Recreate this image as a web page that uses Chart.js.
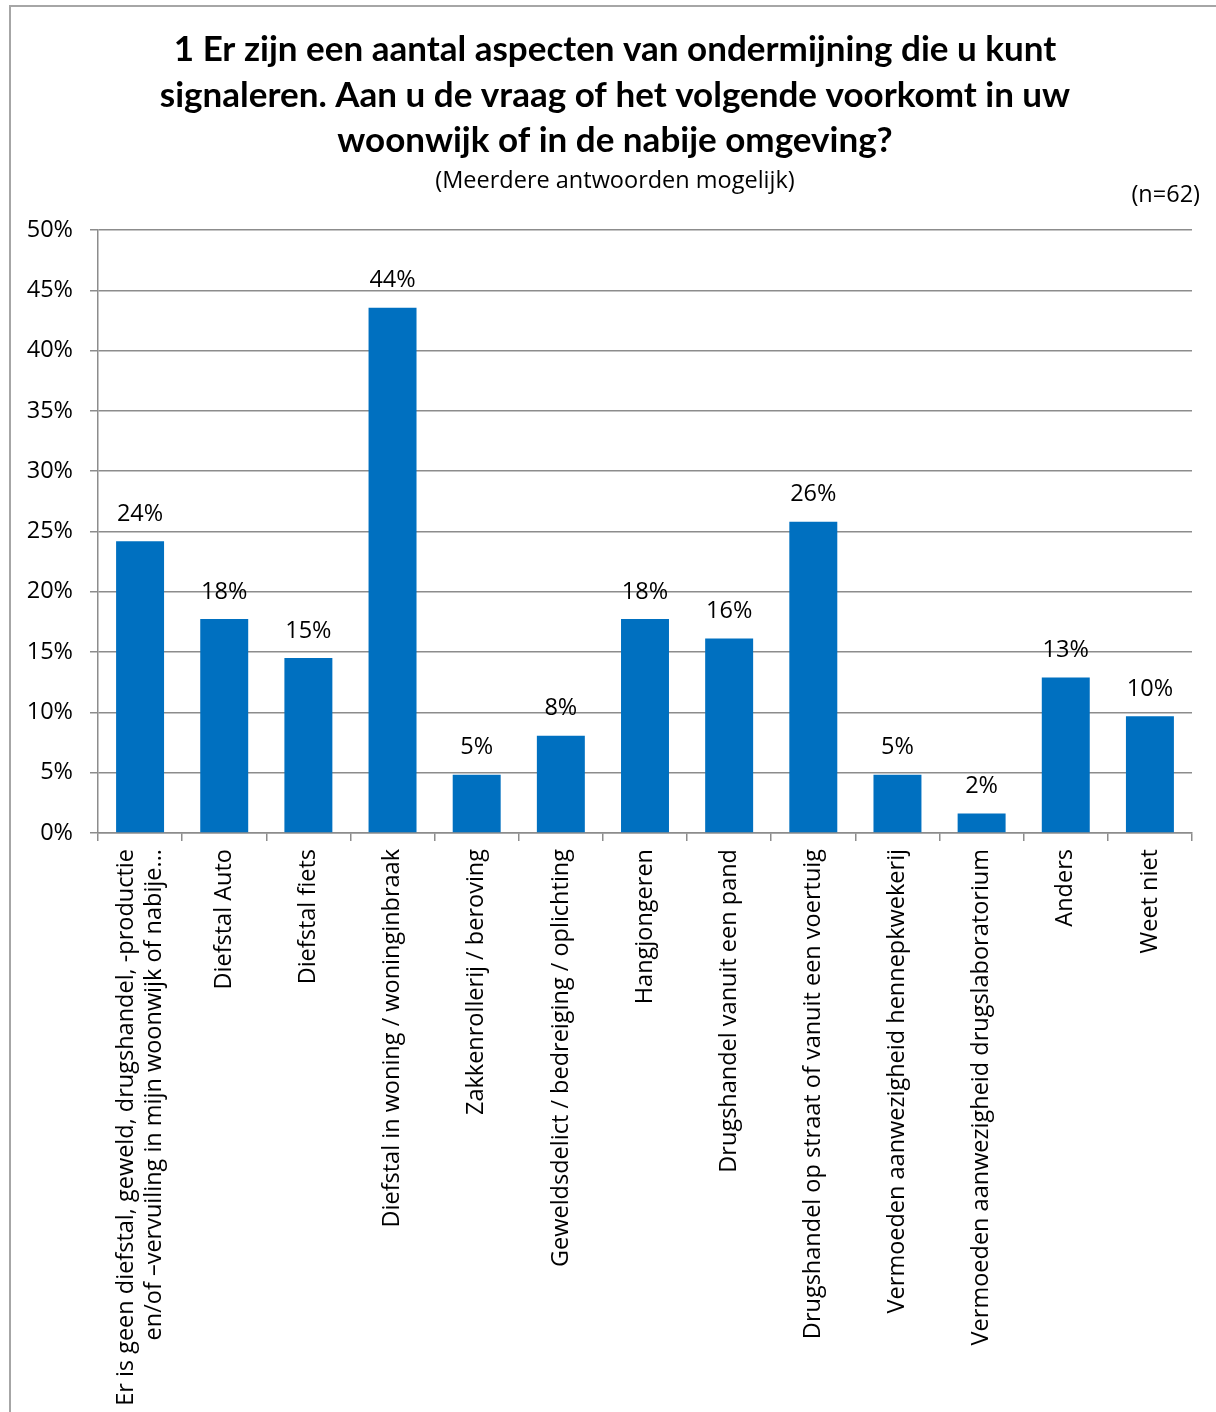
<!DOCTYPE html>
<html>
<head>
<meta charset="utf-8">
<script src="https://cdn.jsdelivr.net/npm/chart.js@4/dist/chart.umd.min.js"></script>
<style>
  html, body { margin: 0; padding: 0; background: #fff; }
  #wrap { position: relative; width: 1216px; height: 1412px; overflow: hidden; }
  #frame { position: absolute; left: 9px; top: 5px; width: 1300px; height: 1500px;
           border-left: 2px solid #a6a6a6; border-top: 2px solid #a6a6a6; }
  canvas { position: absolute; left: 0; top: 0; }
</style>
</head>
<body>
<div id="wrap">
  <div id="frame"></div>
  <canvas id="c" width="1216" height="1412"></canvas>
</div>
<script>
const titleLines = [
  "1 Er zijn een aantal aspecten van ondermijning die u kunt",
  "signaleren. Aan u de vraag of het volgende voorkomt in uw",
  "woonwijk of in de nabije omgeving?"
];
const subtitle = "(Meerdere antwoorden mogelijk)";
const sampleNote = "(n=62)";
const categories = [
  ["Er is geen diefstal, geweld, drugshandel, -productie", "en/of \u2013vervuiling in mijn woonwijk of nabije..."],
  "Diefstal Auto",
  "Diefstal fiets",
  "Diefstal in woning / woninginbraak",
  "Zakkenrollerij / beroving",
  "Geweldsdelict / bedreiging / oplichting",
  "Hangjongeren",
  "Drugshandel vanuit een pand",
  "Drugshandel op straat of vanuit een voertuig",
  "Vermoeden aanwezigheid hennepkwekerij",
  "Vermoeden aanwezigheid drugslaboratorium",
  "Anders",
  "Weet niet"
];
const values = [24.19, 17.74, 14.52, 43.55, 4.84, 8.06, 17.74, 16.13, 25.81, 4.84, 1.61, 12.90, 9.68];
const yTicks = [0, 5, 10, 15, 20, 25, 30, 35, 40, 45, 50];

const LABEL_FONT = "'Open Sans', 'DejaVu Sans', sans-serif";
const TITLE_FONT = "Lato, 'Open Sans', sans-serif";
const LABEL_SIZE = 23.5;

const headerPlugin = {
  id: 'header',
  afterDraw(chart) {
    const ctx = chart.ctx;
    ctx.save();
    ctx.fillStyle = '#000';
    ctx.textAlign = 'center';
    ctx.textBaseline = 'middle';
    ctx.font = "bold 35px " + TITLE_FONT;
    const ys = [50, 96, 141];
    titleLines.forEach((t, i) => ctx.fillText(t, 615, ys[i]));
    ctx.font = LABEL_SIZE + "px " + LABEL_FONT;
    ctx.fillText(subtitle, 615, 181);
    ctx.textAlign = 'right';
    ctx.fillText(sampleNote, 1200, 195);
    ctx.restore();
  }
};

const xLabels = {
  id: 'xLabels',
  afterDraw(chart) {
    const ctx = chart.ctx;
    const xs = chart.scales.x;
    const top = xs.top + 16;
    const lh = 28;
    ctx.save();
    ctx.fillStyle = '#000';
    ctx.font = LABEL_SIZE + "px " + LABEL_FONT;
    ctx.textAlign = 'right';
    ctx.textBaseline = 'middle';
    categories.forEach((lab, i) => {
      const lines = Array.isArray(lab) ? lab : [lab];
      const x = xs.getPixelForValue(i);
      ctx.save();
      ctx.translate(x, top);
      ctx.rotate(-Math.PI / 2);
      lines.forEach((ln, j) => {
        ctx.fillText(ln, 0, (j - (lines.length - 1) / 2) * lh);
      });
      ctx.restore();
    });
    ctx.restore();
  }
};

const valueLabels = {
  id: 'valueLabels',
  afterDatasetsDraw(chart) {
    const ctx = chart.ctx;
    const meta = chart.getDatasetMeta(0);
    ctx.save();
    ctx.fillStyle = '#000';
    ctx.font = LABEL_SIZE + "px " + LABEL_FONT;
    ctx.textAlign = 'center';
    ctx.textBaseline = 'middle';
    meta.data.forEach((bar, i) => {
      ctx.fillText(Math.round(values[i]) + '%', bar.x, bar.y - 27);
    });
    ctx.restore();
  }
};

new Chart(document.getElementById('c'), {
  type: 'bar',
  data: {
    labels: categories,
    datasets: [{
      data: values,
      backgroundColor: '#0070C0',
      borderWidth: 0,
      categoryPercentage: 1.0,
      barPercentage: 0.57
    }]
  },
  options: {
    responsive: false,
    animation: false,
    devicePixelRatio: 1,
    layout: { padding: { top: 230, right: 24, bottom: 0, left: 0 } },
    plugins: { legend: { display: false }, tooltip: { enabled: false }, title: { display: false } },
    scales: {
      x: {
        offset: true,
        grid: { display: true, drawOnChartArea: false, drawTicks: true, tickLength: 8, color: '#8c8c8c', lineWidth: 1.5, offset: true },
        border: { display: true, color: '#8c8c8c', width: 1.5 },
        ticks: { display: false, autoSkip: false },
        afterFit(scale) { scale.height = 579; }
      },
      y: {
        min: 0, max: 50,
        afterBuildTicks(scale) { scale.ticks = yTicks.map(v => ({ value: v })); },
        grid: { color: '#8c8c8c', lineWidth: 1.5, tickLength: 8, drawTicks: true },
        border: { display: true, color: '#8c8c8c', width: 1.5 },
        ticks: {
          padding: 17, color: '#000', font: { family: LABEL_FONT, size: LABEL_SIZE },
          callback: v => v + '%'
        },
        afterFit(scale) { scale.width = 98; }
      }
    }
  },
  plugins: [headerPlugin, xLabels, valueLabels]
});
</script>
</body>
</html>
